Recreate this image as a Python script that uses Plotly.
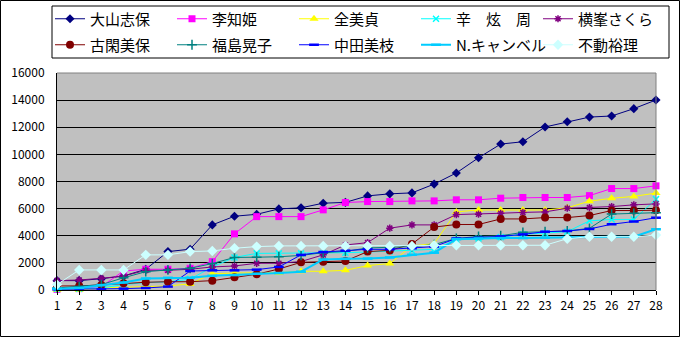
import plotly.graph_objects as go

rounds = list(range(1, 29))

oyama = [690, 690, 835, 1030, 1530, 2830, 3010, 4800, 5440, 5580, 5980, 6060, 6400, 6460, 6940, 7090, 7160, 7810, 8630, 9750, 10760, 10930, 12020, 12410, 12750, 12830, 13370, 14010]
li = [50, 100, 250, 1400, 1530, 1530, 1600, 2090, 4140, 5410, 5410, 5410, 5910, 6450, 6520, 6520, 6570, 6570, 6650, 6650, 6770, 6820, 6820, 6820, 6960, 7480, 7480, 7680]
zen = [0, 0, 150, 200, 250, 300, 450, 1200, 1250, 1250, 1280, 1380, 1380, 1450, 1800, 1950, 3250, 3420, 5760, 5900, 5900, 5900, 5900, 6060, 6550, 6760, 6900, 7150]
shin = [100, 100, 150, 400, 550, 600, 800, 1700, 2400, 2700, 2700, 2700, 2720, 2750, 2800, 2850, 2900, 3000, 3700, 3800, 3900, 4100, 4180, 4300, 5100, 5200, 5200, 6700]
yokomine = [690, 740, 860, 1030, 1450, 1450, 1530, 1700, 1770, 1970, 1970, 2100, 2590, 3320, 3490, 4560, 4800, 4800, 5560, 5590, 5660, 5720, 5760, 6030, 6080, 6150, 6280, 6350]
koga = [300, 300, 370, 490, 570, 610, 610, 690, 940, 1160, 1550, 2040, 2090, 2140, 2830, 2920, 3390, 4640, 4830, 4830, 5240, 5240, 5340, 5340, 5490, 5860, 5860, 5880]
fukushima = [150, 250, 400, 900, 1350, 1480, 1600, 1950, 2400, 2420, 2450, 2550, 2750, 2850, 3100, 3150, 3200, 3350, 3800, 3950, 4000, 4250, 4300, 4350, 4550, 5600, 5650, 5700]
nakata = [50, 50, 50, 100, 150, 250, 1400, 1450, 1450, 1500, 1700, 2590, 2800, 2900, 3000, 3000, 3080, 3200, 3800, 3850, 3950, 4100, 4300, 4350, 4500, 4850, 5050, 5330]
campbell = [100, 150, 350, 550, 850, 900, 900, 1050, 1100, 1200, 1250, 1350, 2250, 2300, 2320, 2400, 2600, 2750, 3750, 3800, 3830, 3830, 3860, 3900, 3920, 3920, 3930, 4480]
fudo = [400, 1480, 1480, 1480, 2590, 2590, 2830, 2880, 3080, 3200, 3250, 3250, 3250, 3250, 3250, 3250, 3250, 3300, 3300, 3300, 3300, 3300, 3300, 3780, 3930, 3930, 3930, 4050]

names = ["大山志保", "李知姫", "全美貞", "辛　炫　周", "横峯さくら",
         "古閑美保", "福島晃子", "中田美枝", "N.キャンベル", "不動裕理"]
series = [oyama, li, zen, shin, yokomine, koga, fukushima, nakata, campbell, fudo]
colors = ["#000080", "#FF00FF", "#FFFF00", "#00FFFF", "#800080",
          "#800000", "#008080", "#0000FF", "#00CCFF", "#CCFFFF"]
symbols = ["diamond", "square", "triangle-up", "x-thin-open", "asterisk-open",
           "circle", "cross-thin-open", "line-ew-open", "line-ew-open", "diamond"]
msizes = [7, 7, 8, 6, 6, 8, 7, 7, 7, 8]
mlw = [0, 0, 0, 1.5, 1.5, 0, 1.5, 2.5, 2.5, 0]
lwidths = [1, 1, 1, 1, 1, 1, 1, 1, 2, 1]

W, H = 680, 337
ml, mr, mt, mb = 57, 24, 73, 47
pw, ph = W - ml - mr, H - mt - mb

def px_x(p):
    return (p - ml) / pw

def px_y(p):
    return (H - mb - p) / ph

fig = go.Figure()
for i, (n, s, c, sym, ms, lw, mw) in enumerate(zip(names, series, colors, symbols, msizes, lwidths, mlw)):
    fig.add_trace(go.Scatter(
        x=rounds, y=s, name=n, mode="lines+markers",
        line=dict(color=c, width=lw),
        marker=dict(symbol=sym, size=ms, color=c,
                    line=dict(color=c, width=mw)),
        cliponaxis=False,
        legend="legend" if i < 5 else "legend2",
    ))

legend_common = dict(
    orientation="h", entrywidth=77, entrywidthmode="pixels",
    font=dict(family="Noto Sans CJK JP", size=15, color="black"),
    bgcolor="rgba(0,0,0,0)", borderwidth=0,
    xanchor="left", yanchor="middle", itemclick=False,
)

fig.update_layout(
    width=W, height=H,
    margin=dict(l=ml, r=mr, t=mt, b=mb, autoexpand=False),
    paper_bgcolor="white", plot_bgcolor="#C0C0C0",
    font=dict(family="Noto Sans CJK JP", size=12, color="black"),
    showlegend=True,
    legend=dict(x=px_x(50), y=px_y(19), **legend_common),
    legend2=dict(x=px_x(50), y=px_y(45), **legend_common),
    xaxis=dict(range=[1, 28], tickmode="array", tickvals=rounds,
               ticktext=[str(r) for r in rounds],
               showgrid=False, zeroline=False,
               showline=True, linecolor="black", linewidth=1,
               ticks="outside", ticklen=4, tickcolor="black",
               ticklabelstandoff=1,
               tickfont=dict(size=12, color="black")),
    yaxis=dict(range=[0, 16000], dtick=2000, tick0=0, tickformat="d",
               showgrid=True, gridcolor="black", gridwidth=1,
               zeroline=False, showline=True, linecolor="black", linewidth=1,
               ticks="", ticklabelstandoff=9,
               tickfont=dict(size=12, color="black")),
)

shapes = [
    dict(type="line", xref="paper", yref="paper", x0=0, x1=1, y0=1, y1=1,
         line=dict(color="#808080", width=1), layer="above"),
    dict(type="line", xref="paper", yref="paper", x0=1, x1=1, y0=0, y1=1,
         line=dict(color="#808080", width=1), layer="above"),
    dict(type="rect", xref="paper", yref="paper",
         x0=px_x(52), x1=px_x(669), y0=px_y(58), y1=px_y(6),
         line=dict(color="black", width=1), fillcolor="rgba(0,0,0,0)", layer="above"),
    dict(type="rect", xref="paper", yref="paper",
         x0=px_x(0.5), x1=px_x(W - 0.5), y0=px_y(H - 0.5), y1=px_y(0.5),
         line=dict(color="black", width=1), fillcolor="rgba(0,0,0,0)", layer="above"),
]
fig.update_layout(shapes=shapes)

fig.write_html("out.html")
